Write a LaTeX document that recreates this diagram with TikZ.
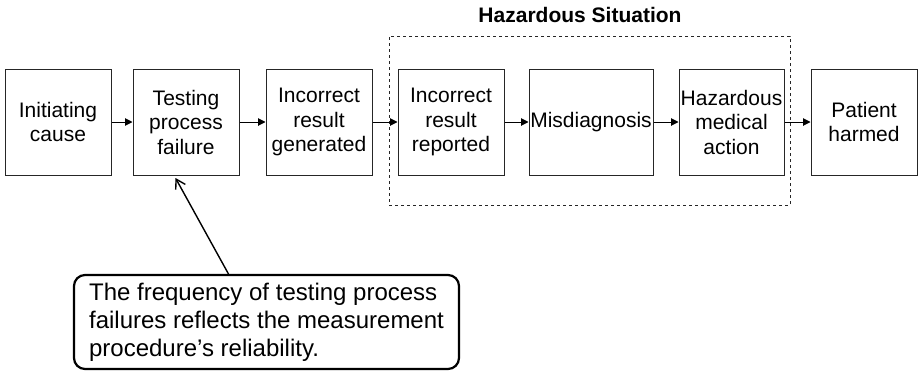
\documentclass[tikz,border=0pt]{standalone}
\usepackage{fontspec}
\setmainfont{Liberation Sans}
\usetikzlibrary{arrows.meta}
\begin{document}
\begin{tikzpicture}[x=1pt,y=-1pt,
  stepbox/.style={draw=black!85, line width=1pt, minimum width=106pt, minimum height=106pt,
    inner sep=0pt, align=center, font=\fontsize{21}{24.5}\selectfont},
  flow/.style={draw=black, line width=1pt, -{Triangle[length=7.5pt,width=7.5pt]}},
  hazbox/.style={draw=black!85, line width=0.9pt, dash pattern=on 3pt off 3pt,
    minimum width=401pt, minimum height=169pt, inner sep=0pt},
  titletext/.style={font=\fontsize{21}{24}\selectfont\bfseries, inner sep=0pt},
  callout/.style={draw=black, line width=2.2pt, rounded corners=11pt, minimum width=385pt,
    minimum height=94pt, inner sep=0pt, align=left,
    font=\fontsize{24}{28}\selectfont},
  pointer/.style={draw=black, line width=1.4pt, -{Straight Barb[length=9pt,width=11pt]}}
]
\useasboundingbox (0,0) rectangle (918,370);

\node[hazbox] (hz) at (589.5,120.5) {};
\node[titletext, anchor=base] (title) at (580,22) {Hazardous Situation};

\node[stepbox] (b1) at (58,122) {Initiating\\cause};
\node[stepbox] (b2) at (186,122) {Testing\\process\\failure};
\node[stepbox] (b3) at (319,122) {Incorrect\\result\\generated};
\node[stepbox] (b4) at (451,122) {Incorrect\\result\\reported};
\node[stepbox, minimum width=124pt] (b5) at (591,122) {Misdiagnosis};
\node[stepbox, minimum width=105pt] (b6) at (731.5,122) {Hazardous\\medical\\action};
\node[stepbox] (b7) at (864,122) {Patient\\harmed};

\draw[flow] (b1) -- (b2);
\draw[flow] (b2) -- (b3);
\draw[flow] (b3) -- (b4);
\draw[flow] (b4) -- (b5);
\draw[flow] (b5) -- (b6);
\draw[flow] (b6) -- (b7);

\node[callout] (note) at (266.5,322) {The frequency of testing process\\failures reflects the measurement\\procedure’s reliability.};
\coordinate (tip) at (175.5,178);
\coordinate (root) at (228.5,274);
\draw[pointer] (root) -- (tip);
\end{tikzpicture}
\end{document}
